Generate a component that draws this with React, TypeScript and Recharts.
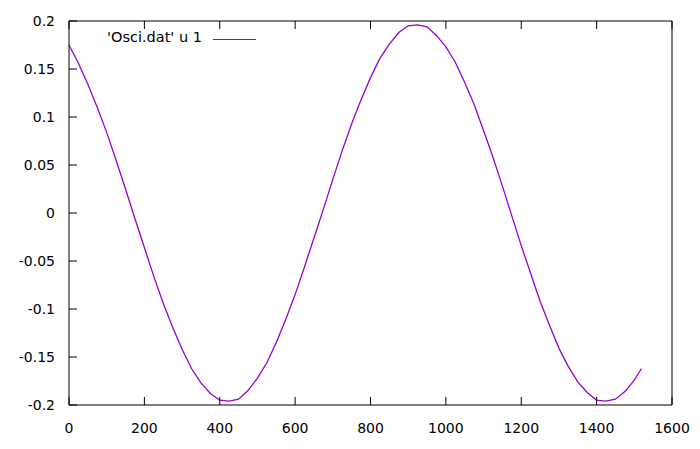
import { LineChart, Line, XAxis, YAxis, Legend } from 'recharts'

const xValues = [
  0, 25, 50, 75, 100, 125, 150, 175, 200, 225, 250, 275, 300, 325, 350, 375, 400, 425, 450, 475,
  500, 525, 550, 575, 600, 625, 650, 675, 700, 725, 750, 775, 800, 825, 850, 875, 900, 925, 950, 975,
  1000, 1025, 1050, 1075, 1100, 1125, 1150, 1175, 1200, 1225, 1250, 1275, 1300, 1325, 1350, 1375,
  1400, 1425, 1450, 1475, 1500, 1519,
]

const osciValues = [
  0.175, 0.156, 0.134, 0.11, 0.084, 0.055, 0.025, -0.006, -0.036, -0.066, -0.094, -0.119, -0.142,
  -0.162, -0.177, -0.188, -0.195, -0.196, -0.194, -0.185, -0.172, -0.156, -0.135, -0.111, -0.085,
  -0.056, -0.026, 0.004, 0.035, 0.065, 0.093, 0.118, 0.141, 0.161, 0.176, 0.188, 0.195, 0.196, 0.194,
  0.185, 0.173, 0.157, 0.136, 0.113, 0.086, 0.058, 0.028, -0.003, -0.034, -0.063, -0.092, -0.117,
  -0.141, -0.16, -0.176, -0.187, -0.195, -0.196, -0.194, -0.186, -0.174, -0.162,
]

const xTicks = [0, 200, 400, 600, 800, 1000, 1200, 1400, 1600]
const yTicks = [-0.2, -0.15, -0.1, -0.05, 0, 0.05, 0.1, 0.15, 0.2]

const seriesName = "'Osci.dat' u 1"
const lineColor = '#9400d3'
const font = '"DejaVu Sans", Verdana, sans-serif'

const data = xValues.map((x, i) => ({ x, v: osciValues[i] }))

function KeyBox() {
  return (
    <div style={{ position: 'relative', width: 700, height: 0 }}>
      <span
        style={{
          position: 'absolute',
          right: 700 - 202,
          top: 28,
          fontFamily: font,
          fontSize: 14.5,
          color: '#000',
          whiteSpace: 'nowrap',
          lineHeight: '18px',
        }}
      >
        {seriesName}
      </span>
      <span
        style={{
          position: 'absolute',
          left: 213,
          top: 39,
          width: 43,
          height: 0,
          borderTop: `1px solid ${lineColor}`,
        }}
      />
    </div>
  )
}

export default function App() {
  const tickStyle = { fill: '#000', fontSize: 14, fontFamily: font }
  return (
    <div style={{ position: 'absolute', left: 0, top: 0, background: '#fff' }}>
      <LineChart width={700} height={449} data={data} margin={{ top: 20, right: 27, bottom: 14, left: 9 }}>
        <XAxis
          xAxisId="bottom"
          dataKey="x"
          type="number"
          domain={[0, 1600]}
          ticks={xTicks}
          height={30}
          tick={tickStyle}
          tickSize={-8}
          tickMargin={26}
          stroke="#000"
          axisLine={{ stroke: '#000' }}
          tickLine={{ stroke: '#000' }}
        />
        <XAxis
          xAxisId="top"
          orientation="top"
          dataKey="x"
          type="number"
          domain={[0, 1600]}
          ticks={xTicks}
          height={1}
          tickFormatter={() => ''}
          tickSize={-8}
          stroke="#000"
          axisLine={{ stroke: '#000' }}
          tickLine={{ stroke: '#000' }}
        />
        <YAxis
          yAxisId="left"
          type="number"
          domain={[-0.2, 0.2]}
          ticks={yTicks}
          width={60}
          tick={tickStyle}
          tickSize={-8}
          tickMargin={22}
          tickFormatter={(v: number) => String(v)}
          stroke="#000"
          axisLine={{ stroke: '#000' }}
          tickLine={{ stroke: '#000' }}
        />
        <YAxis
          yAxisId="right"
          orientation="right"
          type="number"
          domain={[-0.2, 0.2]}
          ticks={yTicks}
          width={1}
          tickFormatter={() => ''}
          tickSize={-8}
          stroke="#000"
          axisLine={{ stroke: '#000' }}
          tickLine={{ stroke: '#000' }}
        />
        <Legend content={() => <KeyBox />} wrapperStyle={{ left: 0, top: 0, width: 700 }} verticalAlign="top" />
        <Line
          xAxisId="bottom"
          yAxisId="left"
          type="linear"
          dataKey="v"
          name={seriesName}
          stroke={lineColor}
          strokeWidth={1.3}
          dot={false}
          isAnimationActive={false}
        />
      </LineChart>
    </div>
  )
}
